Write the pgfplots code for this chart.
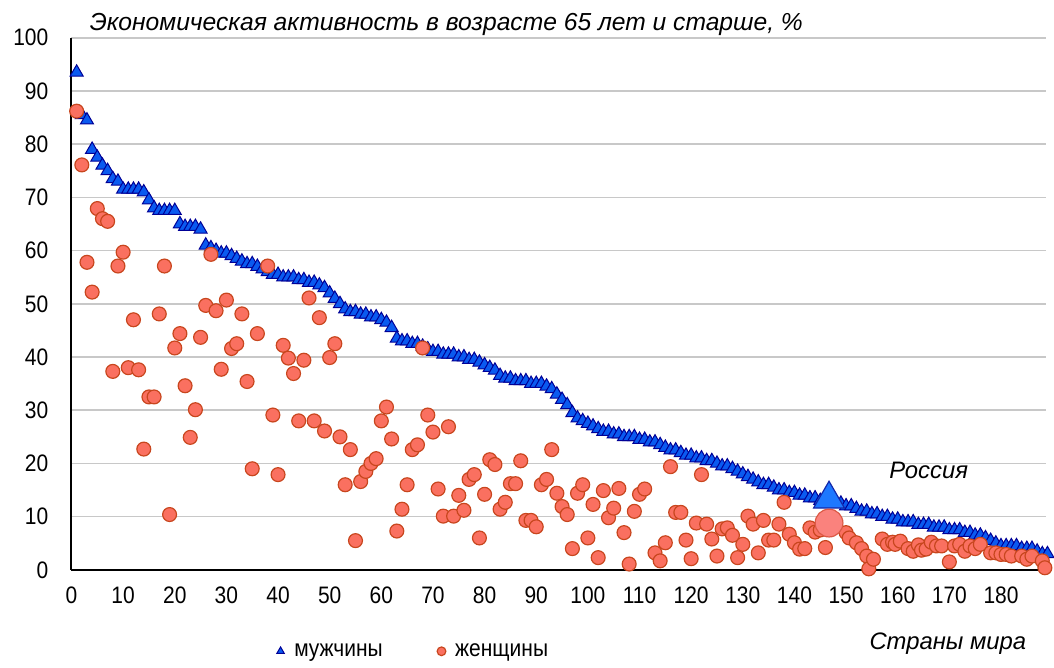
\documentclass[border=0pt]{standalone}
\usepackage{fontspec}
\setmainfont{Liberation Sans}
\newfontfamily\cond[FakeStretch=0.88]{Liberation Sans}
\usepackage{pgfplots}
\pgfplotsset{compat=1.18}
\definecolor{menfill}{RGB}{10,90,240}
\definecolor{menedge}{RGB}{0,0,150}
\definecolor{womfill}{RGB}{250,112,96}
\definecolor{womedge}{RGB}{200,70,30}
\definecolor{rufill}{RGB}{30,120,255}
\definecolor{ruedge}{RGB}{20,40,170}
\definecolor{rwfill}{RGB}{250,130,125}
\definecolor{rwedge}{RGB}{220,90,70}
\definecolor{gridc}{RGB}{200,200,200}
\begin{document}
\begin{tikzpicture}
\begin{axis}[
  name=ax,
  scale only axis,
  width=491pt, height=268pt,
  xmin=0, xmax=188.8, ymin=0, ymax=100,
  xtick={0,10,...,180}, ytick={0,10,...,100},
  axis lines=left,
  axis line style={-, black, line width=1pt},
  tick style={draw=none},
  ymajorgrids,
  major grid style={gridc, line width=0.8pt},
  /pgf/number format/assume math mode=true,
  tick label style={font=\cond\fontsize{12}{14}\selectfont, text=black},
  yticklabel style={xshift=-6pt},
  xticklabel style={yshift=-3pt},
  clip=false,
  legend style={at={(axis description cs:0.35,-0.153)}, anchor=center, draw=none, fill=none,
    font=\cond\fontsize{12}{14}\selectfont, legend columns=2,
    /tikz/every even column/.append style={column sep=24pt}},
  legend image code/.code={\path (0cm,0cm) (0.285cm,0cm);\draw[#1,mark size=2.2pt] plot coordinates {(0.12cm,0cm)};},
]
\addplot[only marks, mark=triangle*, mark size=3.8pt, mark options={fill=menfill, draw=menedge, line width=0.5pt}] coordinates {
(1,93.5)(2,85.5)(3,84.5)(4,79)(5,77.5)(6,76)(7,75)(8,73.5)(9,73)(10,71.5)
(11,71.5)(12,71.5)(13,71.5)(14,71)(15,69.5)(16,68)(17,67.5)(18,67.5)(19,67.5)(20,67.5)
(21,65)(22,64.5)(23,64.5)(24,64.5)(25,64)(26,61)(27,60.5)(28,60)(29,59.5)(30,59.5)
(31,59)(32,58.5)(33,58)(34,57.5)(35,57.5)(36,57)(37,56.5)(38,56)(39,55.5)(40,55.5)
(41,55)(42,55)(43,55)(44,54.5)(45,54.5)(46,54)(47,54)(48,53.5)(49,53)(50,52)
(51,51)(52,50)(53,49)(54,48.5)(55,48.5)(56,48)(57,48)(58,47.5)(59,47.5)(60,47)
(61,46.5)(62,45.5)(63,43.5)(64,43)(65,43)(66,42.5)(67,42.5)(68,42)(69,41.5)(70,41)
(71,41)(72,40.5)(73,40.5)(74,40.5)(75,40)(76,40)(77,39.5)(78,39.5)(79,39)(80,38.5)
(81,38)(82,37.5)(83,36.5)(84,36)(85,36)(86,35.5)(87,35.5)(88,35.5)(89,35)(90,35)
(91,35)(92,34.5)(93,34)(94,33)(95,32)(96,31)(97,29.5)(98,28.5)(99,28)(100,27.5)
(101,27)(102,26.5)(103,26)(104,26)(105,25.5)(106,25.5)(107,25)(108,25)(109,25)(110,24.5)
(111,24.5)(112,24)(113,24)(114,23.5)(115,23)(116,22.5)(117,22.5)(118,22)(119,21.5)(120,21.5)
(121,21)(122,21)(123,20.5)(124,20.5)(125,20)(126,19.5)(127,19.5)(128,19)(129,18.5)(130,18)
(131,17.5)(132,17)(133,16.5)(134,16)(135,16)(136,15.5)(137,15)(138,15)(139,14.5)(140,14.5)
(141,14)(142,14)(143,13.5)(144,13.5)(145,13)(146,13)(148,12.5)(149,12.5)(150,12)
(151,12)(152,11.5)(153,11)(154,11)(155,10.5)(156,10.5)(157,10)(158,10)(159,9.5)(160,9.5)
(161,9)(162,9)(163,9)(164,8.5)(165,8.5)(166,8.5)(167,8)(168,8)(169,8)(170,7.5)
(171,7.5)(172,7.5)(173,7)(174,7)(175,6.5)(176,6.5)(177,6)(178,5.5)(179,5)(180,4.5)
(181,4.5)(182,4.5)(183,4.5)(184,4)(185,4)(186,4)(187,3.5)(188,3)(189,3)
};
\addlegendentry{мужчины}
\addplot[only marks, mark=*, mark size=3.5pt, mark options={fill=womfill, draw=womedge, line width=0.6pt}] coordinates {
(1,86.2)(2,76.1)(3,57.8)(4,52.2)(5,67.9)(6,66)(7,65.5)(8,37.3)(9,57.1)(10,59.7)
(11,38)(12,47)(13,37.6)(14,22.7)(15,32.5)(16,32.5)(17,48.1)(18,57.1)(19,10.4)(20,41.7)
(21,44.4)(22,34.6)(23,24.9)(24,30.1)(25,43.7)(26,49.7)(27,59.3)(28,48.7)(29,37.7)(30,50.7)
(31,41.6)(32,42.5)(33,48.1)(34,35.4)(35,19)(36,44.4)(38,57.1)(39,29.1)(40,17.9)
(41,42.2)(42,39.8)(43,36.9)(44,28)(45,39.4)(46,51.1)(47,28)(48,47.4)(49,26.1)(50,39.9)
(51,42.5)(52,25)(53,16)(54,22.6)(55,5.5)(56,16.6)(57,18.5)(58,20)(59,20.9)(60,28)
(61,30.6)(62,24.6)(63,7.3)(64,11.4)(65,16)(66,22.6)(67,23.5)(68,41.7)(69,29.1)(70,25.9)
(71,15.2)(72,10.1)(73,26.9)(74,10.1)(75,14)(76,11.2)(77,17)(78,17.9)(79,6)(80,14.2)
(81,20.7)(82,19.8)(83,11.4)(84,12.7)(85,16.2)(86,16.2)(87,20.5)(88,9.3)(89,9.3)(90,8.1)
(91,16)(92,17)(93,22.6)(94,14.4)(95,11.9)(96,10.4)(97,4)(98,14.4)(99,16)(100,6)
(101,12.3)(102,2.3)(103,14.9)(104,9.8)(105,11.6)(106,15.3)(107,7)(108,1.1)(109,11)(110,14.2)
(111,15.2)(113,3.2)(114,1.7)(115,5.1)(116,19.4)(117,10.8)(118,10.8)(119,5.6)(120,2.1)
(121,8.8)(122,17.9)(123,8.6)(124,5.8)(125,2.6)(126,7.7)(127,7.9)(128,6.5)(129,2.3)(130,4.8)
(131,10.1)(132,8.6)(133,3.2)(134,9.3)(135,5.6)(136,5.6)(137,8.6)(138,12.7)(139,6.7)(140,5.1)
(141,3.9)(142,4)(143,7.9)(144,7.1)(145,7.5)(146,4.2)
(150,7)(150.6,6)(152,5.1)(153,4)(154,2.6)(154.4,0.2)(155.3,2)(157,5.8)(158,4.8)(159,5.2)
(159.5,4.8)(160.5,5.4)(162,4)(163,3.5)(164,4.7)(164.6,3.7)(165.5,3.9)(166.5,5.2)(167.5,4.5)(168.5,4.5)
(170,1.5)(171,4.5)(172,4.8)(173,3.5)(174,4.5)(175,4)(176,4.8)(178,3.2)(179,3.2)(180,2.9)
(181,2.9)(182,2.6)(184,2.6)(185,2)(186,2.6)(188,1.7)(188.5,0.4)
};
\addlegendentry{женщины}
\addplot[only marks, mark=triangle*, mark size=9pt, mark options={fill=rufill, draw=ruedge, line width=0.6pt}, forget plot] coordinates {(146.7,13.3)};
\addplot[only marks, mark=*, mark size=7pt, mark options={fill=rwfill, draw=rwedge, line width=0.6pt}, forget plot] coordinates {(146.7,8.8)};
\node[anchor=base west, font=\itshape\fontsize{12}{14}\selectfont, inner sep=0pt] at (axis cs:158.3,17.2) {Россия};
\end{axis}
\node[anchor=base west, font=\itshape\fontsize{12.4}{14}\selectfont, inner sep=0pt] at ([xshift=9pt,yshift=3.5pt]ax.north west) {Экономическая активность в возрасте 65 лет и старше, \%};
\node[anchor=base east, font=\itshape\fontsize{12}{14}\selectfont, inner sep=0pt] at ([xshift=-10pt,yshift=-40pt]ax.south east) {Страны мира};
\path[use as bounding box] ([xshift=-36pt,yshift=-41.5pt]ax.south west) rectangle ([yshift=19pt]ax.north east);
\end{tikzpicture}
\end{document}
